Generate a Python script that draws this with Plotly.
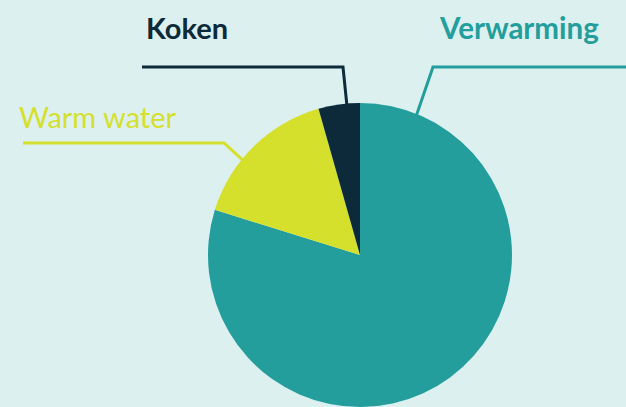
import math
import plotly.graph_objects as go

W, H = 626, 407
labels = ["Verwarming", "Warm water", "Koken"]
values = [79.8, 15.8, 4.4]
colors = ["#239e9c", "#d5e02c", "#0c2a3a"]
font_weights = ["bold", "normal", "bold"]

# pie geometry (pixels)
cx, cy, r = 360, 255, 152

# leader-line layout: (angle on pie edge in degrees clockwise from top, elbow point, line end point)
leader_angle = [22, -51, -5]
leader_elbow = [(433, 67), (224, 143), (343, 67)]
leader_end = [(626, 67), (23, 143), (142, 67)]
text_pos = [(437, 47), (17, 136), (144, 47)]
text_size = [29.5, 29, 29]

def px(x):
    return x / W

def py(y):
    return 1 - y / H

fig = go.Figure()
fig.add_trace(go.Pie(
    labels=labels, values=values, sort=False, direction="clockwise", rotation=0,
    marker=dict(colors=colors, line=dict(width=0)), textinfo="none", hoverinfo="label+percent",
    showlegend=False,
    domain=dict(x=[px(cx - r), px(cx + r)], y=[0, py(cy - r)]),
))

shapes = []
annotations = []
for i, lab in enumerate(labels):
    a = math.radians(leader_angle[i])
    ex, ey = cx + r * math.sin(a) * 0.99, cy - r * math.cos(a) * 0.99
    bx, by = leader_elbow[i]
    tx, ty = leader_end[i]
    path = f"M {px(ex)} {py(ey)} L {px(bx)} {py(by)} L {px(tx)} {py(ty)}"
    shapes.append(dict(type="path", path=path, xref="paper", yref="paper",
                       line=dict(color=colors[i], width=3)))
    annotations.append(dict(
        text=f"<b>{lab}</b>" if font_weights[i] == "bold" else lab,
        x=px(text_pos[i][0]), y=py(text_pos[i][1]), xref="paper", yref="paper",
        xanchor="left", yanchor="bottom", showarrow=False,
        font=dict(family="Lato", size=text_size[i], color=colors[i]),
    ))

fig.update_layout(
    width=W, height=H, margin=dict(l=0, r=0, t=0, b=0),
    paper_bgcolor="#dcf0ef", plot_bgcolor="#dcf0ef",
    shapes=shapes, annotations=annotations,
)
fig.write_html("out.html", config=dict(displayModeBar=False),
               post_script="document.body.style.margin='0';document.body.style.overflow='hidden';")
